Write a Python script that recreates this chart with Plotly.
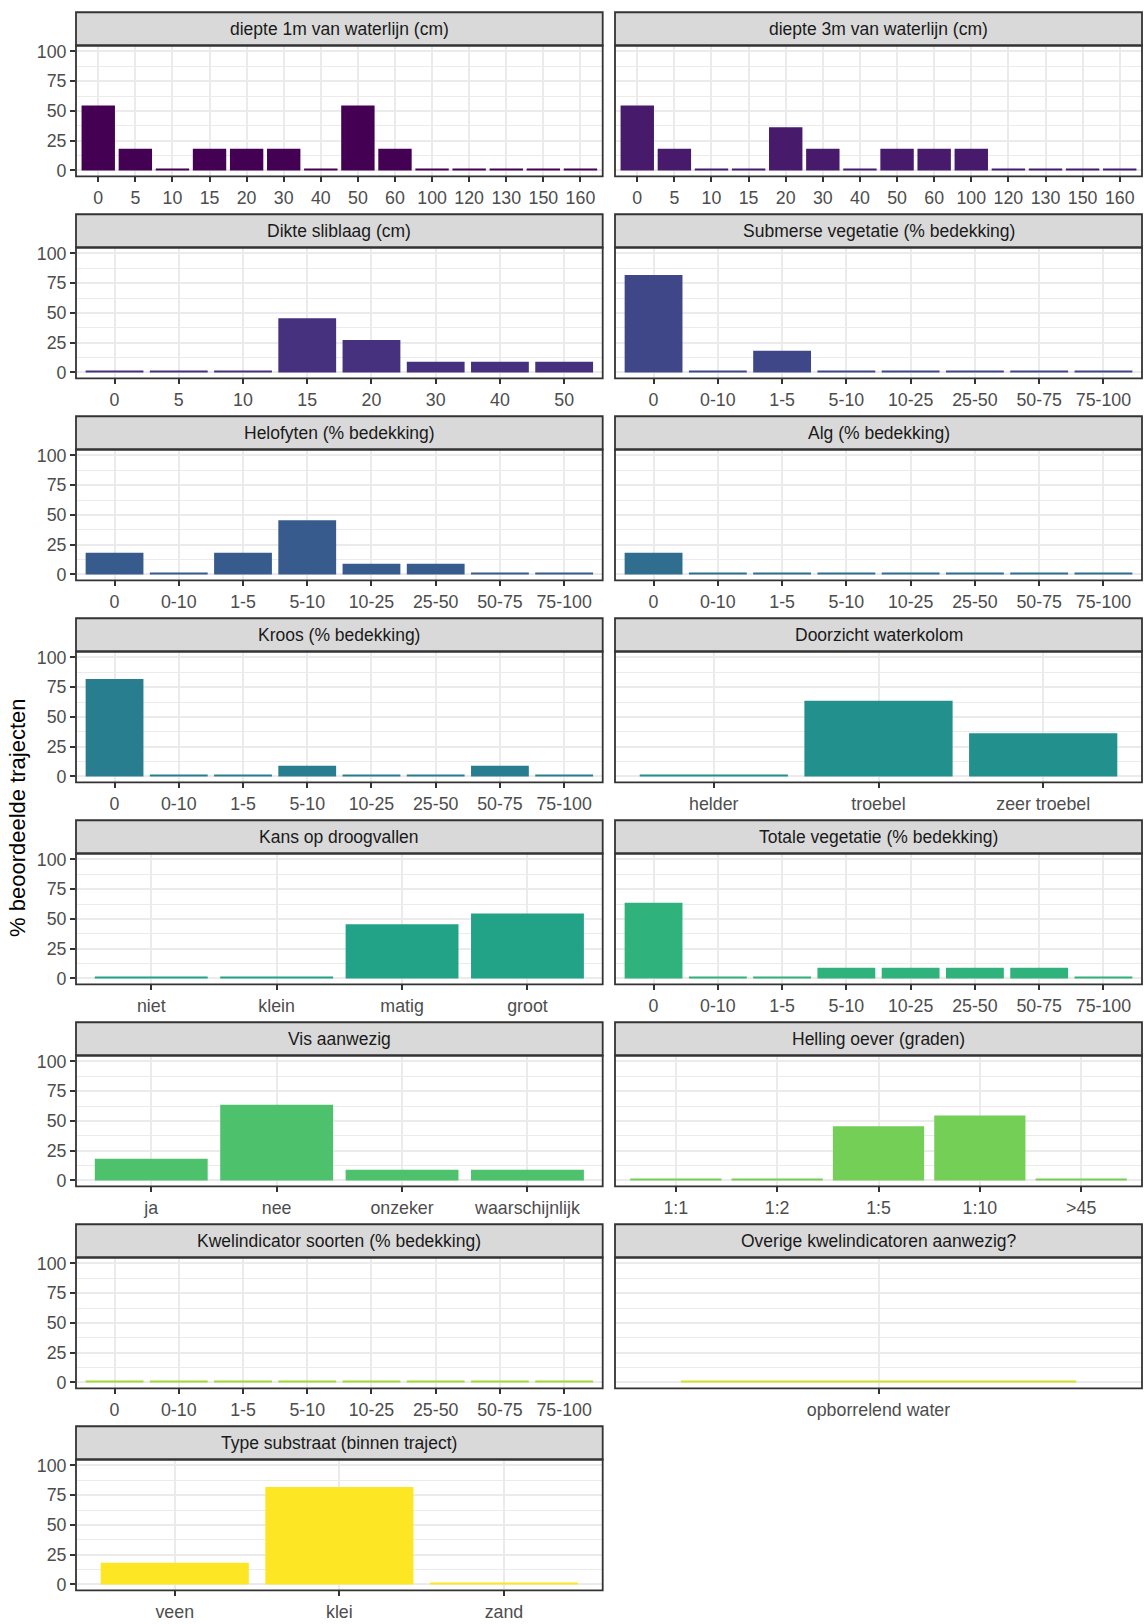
import plotly.graph_objects as go
from plotly.colors import sample_colorscale

# ---------------- data ----------------
titles = [
    "diepte 1m van waterlijn (cm)",
    "diepte 3m van waterlijn (cm)",
    "Dikte sliblaag (cm)",
    "Submerse vegetatie (% bedekking)",
    "Helofyten (% bedekking)",
    "Alg (% bedekking)",
    "Kroos (% bedekking)",
    "Doorzicht waterkolom",
    "Kans op droogvallen",
    "Totale vegetatie (% bedekking)",
    "Vis aanwezig",
    "Helling oever (graden)",
    "Kwelindicator soorten (% bedekking)",
    "Overige kwelindicatoren aanwezig?",
    "Type substraat (binnen traject)",
]

cats_depth = ["0", "5", "10", "15", "20", "30", "40", "50", "60", "100", "120", "130", "150", "160"]
val_1m = [54.5, 18.2, 1, 18.2, 18.2, 18.2, 1, 54.5, 18.2, 1, 1, 1, 1, 1]
val_3m = [54.5, 18.2, 1, 1, 36.4, 18.2, 1, 18.2, 18.2, 18.2, 1, 1, 1, 1]

cats_slib = ["0", "5", "10", "15", "20", "30", "40", "50"]
val_slib = [1, 1, 1, 45.5, 27.3, 9.1, 9.1, 9.1]

cats_pct = ["0", "0-10", "1-5", "5-10", "10-25", "25-50", "50-75", "75-100"]
val_submers = [81.8, 1, 18.2, 1, 1, 1, 1, 1]
val_helofyt = [18.2, 1, 18.2, 45.5, 9.1, 9.1, 1, 1]
val_alg = [18.2, 1, 1, 1, 1, 1, 1, 1]
val_kroos = [81.8, 1, 1, 9.1, 1, 1, 9.1, 1]

cats_door = ["helder", "troebel", "zeer troebel"]
val_door = [1, 63.6, 36.4]

cats_kans = ["niet", "klein", "matig", "groot"]
val_kans = [1, 1, 45.5, 54.5]

val_totaal = [63.6, 1, 1, 9.1, 9.1, 9.1, 9.1, 1]

cats_vis = ["ja", "nee", "onzeker", "waarschijnlijk"]
val_vis = [18.2, 63.6, 9.1, 9.1]

cats_helling = ["1:1", "1:2", "1:5", "1:10", ">45"]
val_helling = [1, 1, 45.5, 54.5, 1]

val_kwel = [1, 1, 1, 1, 1, 1, 1, 1]

cats_overig = ["opborrelend water"]
val_overig = [1]

cats_substraat = ["veen", "klei", "zand"]
val_substraat = [18.2, 81.8, 1]

y_ticks = [0, 25, 50, 75, 100]
y_title = "% beoordeelde trajecten"

panels = [
    (cats_depth, val_1m), (cats_depth, val_3m),
    (cats_slib, val_slib), (cats_pct, val_submers),
    (cats_pct, val_helofyt), (cats_pct, val_alg),
    (cats_pct, val_kroos), (cats_door, val_door),
    (cats_kans, val_kans), (cats_pct, val_totaal),
    (cats_vis, val_vis), (cats_helling, val_helling),
    (cats_pct, val_kwel), (cats_overig, val_overig),
    (cats_substraat, val_substraat),
]

# ---------------- layout geometry (pixels) ----------------
W, H = 1144, 1624
col_x = [(76.0, 602.7), (615.0, 1142.0)]
row0_top = 8.3
row_pitch = 203.0
strip_h = 33.4
plot_h = 131.6

colors = sample_colorscale("Viridis", [i / 14 for i in range(15)])

FONT = "Liberation Sans, Arial, sans-serif"
GRID = "#EBEBEB"
DARK = "#333333"

fig = go.Figure()
shapes = []
annotations = []

for k, (cats, vals) in enumerate(panels):
    r, c = divmod(k, 2)
    x0, x1 = col_x[c]
    st = row0_top + r * row_pitch
    sb = st + strip_h
    pb = sb + plot_h
    xa = "x" if k == 0 else f"x{k+1}"
    ya = "y" if k == 0 else f"y{k+1}"
    fig.add_trace(go.Bar(
        x=cats, y=vals, xaxis=xa, yaxis=ya, width=0.9,
        marker=dict(color=colors[k], line=dict(width=0)),
        showlegend=False, hoverinfo="x+y",
    ))
    n = len(cats)
    xname = "xaxis" if k == 0 else f"xaxis{k+1}"
    yname = "yaxis" if k == 0 else f"yaxis{k+1}"
    fig.layout[xname] = dict(
        domain=[x0 / W, x1 / W], anchor=ya, type="category",
        categoryorder="array", categoryarray=cats,
        range=[-0.6, n - 0.4],
        showgrid=True, gridcolor=GRID, gridwidth=1.8,
        ticks="outside", ticklen=5, tickwidth=1.8, tickcolor=DARK,
        tickfont=dict(family=FONT, size=17.8, color="#4D4D4D"),
        showline=False, zeroline=False, fixedrange=True,
    )
    fig.layout[yname] = dict(
        domain=[1 - pb / H, 1 - sb / H], anchor=xa,
        range=[-5, 105], tickvals=y_ticks,
        showticklabels=(c == 0),
        ticks="outside" if c == 0 else "", ticklen=5, tickwidth=1.8, tickcolor=DARK,
        tickfont=dict(family=FONT, size=17.8, color="#4D4D4D"),
        showgrid=True, gridcolor=GRID, gridwidth=1.8,
        minor=dict(showgrid=True, gridcolor=GRID, gridwidth=0.9,
                   tickvals=[12.5, 37.5, 62.5, 87.5], ticks=""),
        showline=False, zeroline=False, fixedrange=True,
    )
    # strip
    shapes.append(dict(type="rect", xref="paper", yref="paper",
                       x0=x0 / W, x1=x1 / W, y0=1 - sb / H, y1=1 - st / H,
                       fillcolor="#D9D9D9", line=dict(color=DARK, width=1.8), layer="above"))
    # panel border
    shapes.append(dict(type="rect", xref="paper", yref="paper",
                       x0=x0 / W, x1=x1 / W, y0=1 - pb / H, y1=1 - sb / H,
                       fillcolor="rgba(0,0,0,0)", line=dict(color=DARK, width=1.8), layer="above"))
    annotations.append(dict(text=titles[k], xref="paper", yref="paper",
                            x=(x0 + x1) / 2 / W, y=1 - (st + sb) / 2 / H,
                            xanchor="center", yanchor="middle", showarrow=False,
                            font=dict(family=FONT, size=17.5, color="#1A1A1A")))

# y-axis title
first_top = row0_top + strip_h
last_bottom = row0_top + 7 * row_pitch + strip_h + plot_h
annotations.append(dict(text=y_title, xref="paper", yref="paper",
                        x=18 / W, y=1 - (first_top + last_bottom) / 2 / H,
                        xanchor="center", yanchor="middle", textangle=-90, showarrow=False,
                        font=dict(family=FONT, size=22, color="#000000")))

fig.update_layout(
    width=W, height=H,
    margin=dict(l=0, r=0, t=0, b=0),
    paper_bgcolor="white", plot_bgcolor="white",
    shapes=shapes, annotations=annotations,
    bargap=0.1,
    font=dict(family=FONT),
)

fig.write_html(
    "out.html",
    config={"displayModeBar": False},
    post_script="document.body.style.margin='0';document.body.style.padding='0';"
                "document.body.style.overflow='hidden';",
)
